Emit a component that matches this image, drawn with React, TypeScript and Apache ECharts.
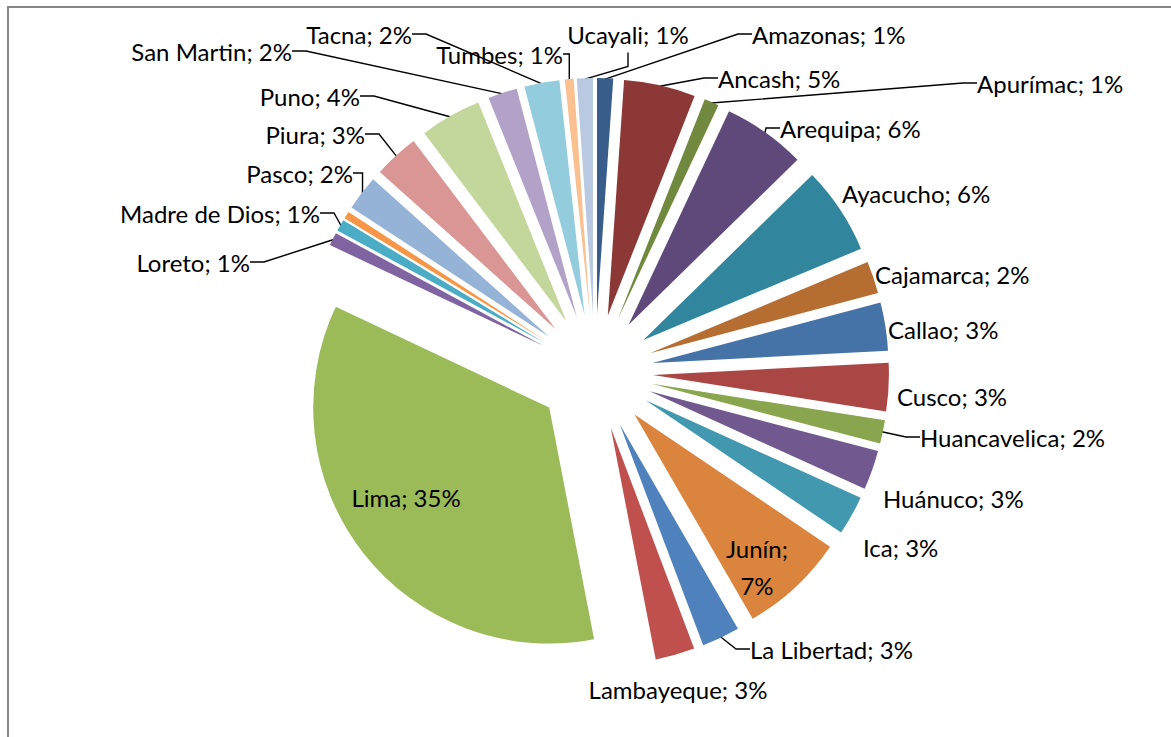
import React, { useEffect, useRef } from 'react';
import * as echarts from 'echarts';

const regions = [
  'Amazonas', 'Ancash', 'Apurímac', 'Arequipa', 'Ayacucho', 'Cajamarca', 'Callao', 'Cusco',
  'Huancavelica', 'Huánuco', 'Ica', 'Junín', 'La Libertad', 'Lambayeque', 'Lima', 'Loreto',
  'Madre de Dios', 'Moquegua', 'Pasco', 'Piura', 'Puno', 'San Martin', 'Tacna', 'Tumbes', 'Ucayali',
];
const shares = [
  1.1, 4.9, 1.0, 5.7, 6.0, 2.2, 3.3, 3.3,
  1.6, 2.7, 2.7, 7.2, 2.6, 2.7, 35.1, 0.9,
  0.8, 0.5, 2.4, 3.1, 4.2, 2.0, 2.4, 0.6, 1.1,
];
const colors = [
  '#385d8a', '#8c3836', '#71893f', '#5f497a', '#31859c', '#b66d31', '#4572a7', '#aa4643',
  '#89a54e', '#71588f', '#4198af', '#db843d', '#4f81bd', '#c0504d', '#9bbb59', '#8064a2',
  '#4bacc6', '#f79646', '#95b3d7', '#d99694', '#c3d69b', '#b3a2c7', '#93cddd', '#fac090', '#b9c9e2',
];
const hiddenLabels = ['Moquegua'];
const noLineLabels = ['Ayacucho', 'Cajamarca', 'Callao', 'Cusco', 'Huánuco', 'Ica', 'Lambayeque', 'Lima', 'Junín'];
const wrappedLabels = ['Junín'];
// label anchor positions (x, y, align)
const labelAnchors: Record<string, [number, number, string]> = {
  Amazonas: [752, 34, 'left'],
  Ancash: [718, 78, 'left'],
  'Apurímac': [977, 83, 'left'],
  Arequipa: [780, 128, 'left'],
  Ayacucho: [842, 193, 'left'],
  Cajamarca: [875, 274, 'left'],
  Callao: [888, 329, 'left'],
  Cusco: [897, 396, 'left'],
  Huancavelica: [920, 437, 'left'],
  'Huánuco': [883, 498, 'left'],
  Ica: [863, 547, 'left'],
  'Junín': [757, 567, 'center'],
  'La Libertad': [750, 649, 'left'],
  Lambayeque: [678, 689, 'center'],
  Lima: [406, 497, 'center'],
  Loreto: [250, 262, 'right'],
  'Madre de Dios': [320, 213, 'right'],
  Pasco: [353, 173, 'right'],
  Piura: [365, 134, 'right'],
  Puno: [360, 96, 'right'],
  'San Martin': [292, 51, 'right'],
  Tacna: [412, 34, 'right'],
  Tumbes: [563, 54, 'right'],
  Ucayali: [628, 34, 'center'],
};

export default function App() {
  const ref = useRef<HTMLDivElement>(null);
  useEffect(() => {
    document.body.style.margin = '0';
    const chart = echarts.init(ref.current!, null, { renderer: 'svg' });
    const sliceData = regions.map((name, i) => ({
      name,
      value: shares[i],
      selected: true,
      itemStyle: { color: colors[i] },
    }));
    const labelData = regions.map((name, i) => ({
      name,
      value: shares[i],
      label: { show: !hiddenLabels.includes(name) },
      labelLine: { show: !hiddenLabels.includes(name) && !noLineLabels.includes(name) },
    }));
    const common = {
      type: 'pie',
      center: [595, 372],
      startAngle: 90,
      clockwise: true,
      animation: false,
    };
    chart.setOption({
      animation: false,
      series: [
        {
          ...common,
          radius: 236,
          selectedMode: 'multiple',
          selectedOffset: 58,
          emphasis: { disabled: true },
          label: { show: false },
          labelLine: { show: false },
          silent: true,
          data: sliceData,
        },
        {
          ...common,
          radius: 293,
          silent: true,
          avoidLabelOverlap: false,
          itemStyle: { color: 'rgba(0,0,0,0)' },
          emphasis: { disabled: true },
          label: {
            position: 'outside',
            formatter: (p: any) =>
              `${p.name};${wrappedLabels.includes(p.name) ? '\n' : ' '}${Math.round(p.value)}%`,
            fontFamily: 'Lato',
            fontSize: 24,
            lineHeight: 37,
            color: '#000',
          },
          labelLine: {
            length: 10,
            length2: 14,
            lineStyle: { color: '#000', width: 1.4 },
          },
          labelLayout: (params: any) => {
            const a = labelAnchors[regions[params.dataIndex]];
            if (!a) return {};
            return { x: a[0], y: a[1], align: a[2], verticalAlign: 'middle' };
          },
          data: labelData,
        },
      ],
    });
    return () => chart.dispose();
  }, []);
  return (
    <div style={{ position: 'fixed', left: 0, top: 0, width: 1171, height: 737, overflow: 'hidden', background: '#fff' }}>
      <div
        style={{
          position: 'absolute', left: 7, top: 6, width: 1300, height: 900,
          borderTop: '2px solid #878787', borderLeft: '2px solid #878787',
        }}
      />
      <div ref={ref} style={{ position: 'absolute', left: 0, top: 0, width: 1171, height: 737 }} />
    </div>
  );
}
